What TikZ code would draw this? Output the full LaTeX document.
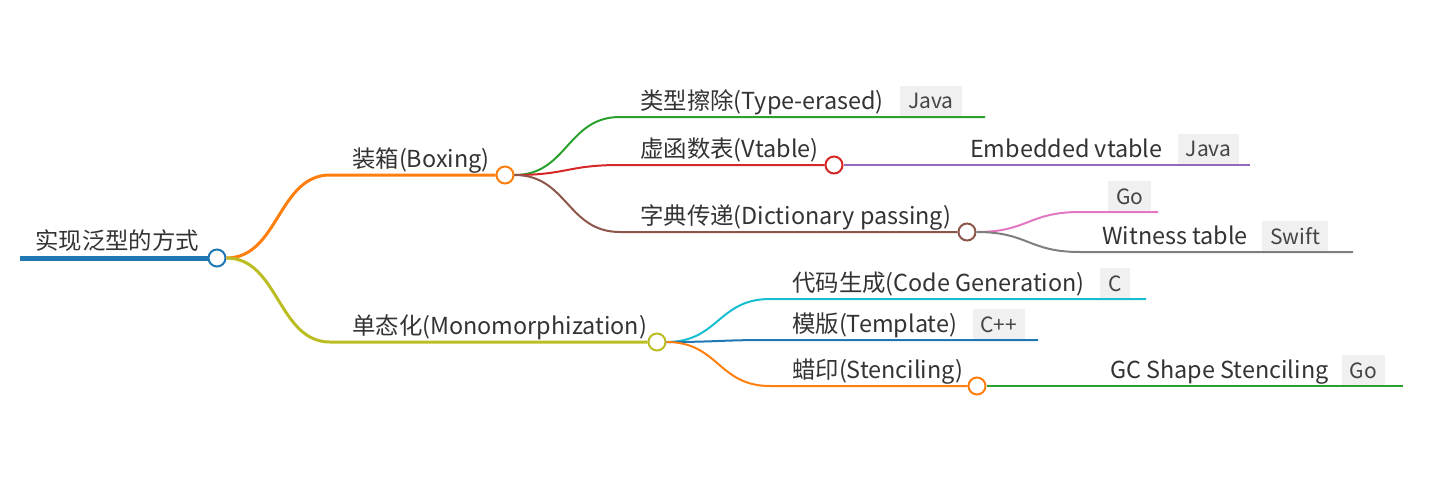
\documentclass[tikz,border=0pt]{standalone}
\usepackage{fontspec}
\setmainfont{Noto Sans CJK SC}
\usepackage{tikz}
\usetikzlibrary{positioning, calc}
\usepackage{xcolor}
\definecolor{cRoot}{HTML}{1F77B4}
\definecolor{cBox}{HTML}{FF7F0E}
\definecolor{cMono}{HTML}{BCBD22}
\definecolor{cErase}{HTML}{2CA02C}
\definecolor{cVtab}{HTML}{D62728}
\definecolor{cEmb}{HTML}{9467BD}
\definecolor{cDict}{HTML}{8C564B}
\definecolor{cGo}{HTML}{E377C2}
\definecolor{cWit}{HTML}{7F7F7F}
\definecolor{cGen}{HTML}{17BECF}
\definecolor{cTpl}{HTML}{1F77B4}
\definecolor{cSten}{HTML}{FF7F0E}
\definecolor{cGcs}{HTML}{2CA02C}
\definecolor{mmText}{HTML}{333333}
\definecolor{mmTag}{HTML}{F0F0F0}
\definecolor{mmTagText}{HTML}{444444}
\tikzset{%
	mm dot/.style={
		circle,
		draw=#1,
		fill=white,
		line width=2pt,
		minimum size=17pt,
		inner sep=0pt
	},
	mm link/.style={
		draw=#1,
		line width=2pt
	},
	mm label/.style={
		anchor=base west,
		inner sep=0pt,
		text=mmText,
		font=\fontsize{23.4}{28}\selectfont
	},
	mm tag/.style={
		anchor=south west,
		fill=mmTag,
		text=mmTagText,
		font=\fontsize{21}{24}\selectfont,
		minimum height=31pt,
		inner xsep=8pt,
		inner ysep=0pt
	},
}

\begin{document}
\begin{tikzpicture}[x=1pt, y=-1pt]
			\useasboundingbox (0,0) rectangle (1440,477);
			
			% Root
			\coordinate (root-start) at (20,258);
			\node[mm dot=cRoot] (root) at (217,258) {};
			\node[mm label] (root-lbl) at (35,249) {实现泛型的方式};
			
			% First level
			\node[mm dot=cBox] (box) at (505,175) {};
			\coordinate (box-in) at (330,175);
			\node[mm label] (box-lbl) at (352,167) {装箱(Boxing)};
			\node[mm dot=cMono] (mono) at (657,342) {};
			\coordinate (mono-in) at (330,342);
			\node[mm label] (mono-lbl) at (352,334) {单态化(Monomorphization)};
			
			% Children of boxing
			\coordinate (erase-in) at (620,117);
			\coordinate (erase-end) at (985,117);
			\node[mm label] (erase-lbl) at (640,109) {类型擦除(Type-erased)};
			\node[mm tag] (erase-tag) at ([xshift=16pt]erase-lbl.base east |- erase-end) {Java};
			
			\coordinate (vtab-in) at (620,165);
			\node[mm dot=cVtab] (vtab) at (834,165) {};
			\node[mm label] (vtab-lbl) at (640,157) {虚函数表(Vtable)};
			\coordinate (emb-end) at (1250,165);
			\node[mm label] (emb-lbl) at (970,157) {Embedded vtable};
			\node[mm tag] (emb-tag) at ([xshift=15pt]emb-lbl.base east |- emb-end) {Java};
			
			\coordinate (dict-in) at (620,232);
			\node[mm dot=cDict] (dict) at (967,232) {};
			\node[mm label] (dict-lbl) at (640,224) {字典传递(Dictionary passing)};
			
			% Children of dictionary passing
			\coordinate (go-in) at (1080,212);
			\coordinate (go-end) at (1158,212);
			\node[mm tag] (go-tag) at (1108,212) {Go};
			\coordinate (wit-in) at (1080,252);
			\coordinate (wit-end) at (1353,252);
			\node[mm label] (wit-lbl) at (1102,244) {Witness table};
			\node[mm tag] (wit-tag) at ([xshift=14pt]wit-lbl.base east |- wit-end) {Swift};
			
			% Children of monomorphization
			\coordinate (gen-in) at (770,299);
			\coordinate (gen-end) at (1146,299);
			\node[mm label] (gen-lbl) at (792,291) {代码生成(Code Generation)};
			\node[mm tag] (gen-tag) at ([xshift=15pt]gen-lbl.base east |- gen-end) {C};
			
			\coordinate (tpl-in) at (770,340);
			\coordinate (tpl-end) at (1038,340);
			\node[mm label] (tpl-lbl) at (792,332) {模版(Template)};
			\node[mm tag] (tpl-tag) at ([xshift=15pt]tpl-lbl.base east |- tpl-end) {C++};
			
			\coordinate (sten-in) at (770,386);
			\node[mm dot=cSten] (sten) at (977,386) {};
			\node[mm label] (sten-lbl) at (792,378) {蜡印(Stenciling)};
			\coordinate (gcs-end) at (1403,386);
			\node[mm label] (gcs-lbl) at (1110,378) {GC Shape Stenciling};
			\node[mm tag] (gcs-tag) at ([xshift=13pt]gcs-lbl.base east |- gcs-end) {Go};
			
			% Links
			\draw[mm link=cRoot, line width=5pt] (root-start) -- (root.west);
			\draw[mm link=cBox, line width=3pt] (root.east) .. controls +(52,0) and +(-52,0) .. (box-in) -- (box.west);
			\draw[mm link=cMono, line width=3pt] (root.east) .. controls +(52,0) and +(-52,0) .. (mono-in) -- (mono.west);
			\draw[mm link=cErase] (box.east) .. controls +(53,0) and +(-53,0) .. (erase-in) -- (erase-end);
			\draw[mm link=cVtab] (box.east) .. controls +(53,0) and +(-53,0) .. (vtab-in) -- (vtab.west);
			\draw[mm link=cEmb] (vtab.east) -- (emb-end);
			\draw[mm link=cDict] (box.east) .. controls +(53,0) and +(-53,0) .. (dict-in) -- (dict.west);
			\draw[mm link=cGo] (dict.east) .. controls +(52,0) and +(-52,0) .. (go-in) -- (go-end);
			\draw[mm link=cWit] (dict.east) .. controls +(52,0) and +(-52,0) .. (wit-in) -- (wit-end);
			\draw[mm link=cGen] (mono.east) .. controls +(52,0) and +(-52,0) .. (gen-in) -- (gen-end);
			\draw[mm link=cTpl] (mono.east) .. controls +(52,0) and +(-52,0) .. (tpl-in) -- (tpl-end);
			\draw[mm link=cSten] (mono.east) .. controls +(52,0) and +(-52,0) .. (sten-in) -- (sten.west);
			\draw[mm link=cGcs] (sten.east) -- (gcs-end);
		\end{tikzpicture}
\end{document}
